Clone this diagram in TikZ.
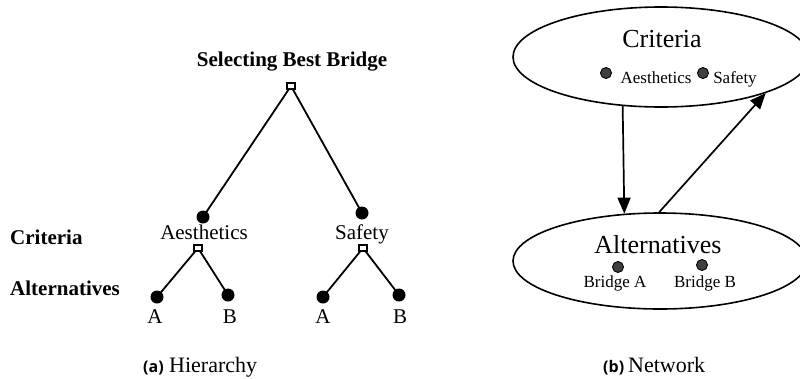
\documentclass[tikz,border=0pt]{standalone}
\usepackage{fontspec}
\setmainfont{Liberation Serif}
\newfontfamily\capsans{Open Sans}[BoldFont={* Bold}]
\usetikzlibrary{arrows.meta,shapes.geometric}
\begin{document}
\begin{tikzpicture}[x=1pt,y=-1pt,
  sq/.style={draw, fill=white, line width=1.6pt, minimum width=8pt, minimum height=6pt, inner sep=0pt},
  bdot/.style={circle, fill=black, minimum size=13pt, inner sep=0pt},
  gdot/.style={circle, draw, fill=black!75, line width=0.9pt, minimum size=11pt, inner sep=0pt},
  link/.style={line width=1.8pt},
  tl/.style={anchor=base, inner sep=0pt, font=\fontsize{21pt}{21pt}\selectfont},
  tlb/.style={anchor=base west, inner sep=0pt, font=\fontsize{21pt}{21pt}\selectfont\bfseries},
  big/.style={anchor=base, inner sep=0pt, font=\fontsize{26pt}{26pt}\selectfont},
  small/.style={anchor=base, inner sep=0pt, font=\fontsize{17pt}{17pt}\selectfont},
  oval/.style={ellipse, draw, line width=1.6pt, inner sep=0pt},
  arr/.style={line width=1.7pt, -{Triangle[length=16pt,width=13pt]}},
  capl/.style={anchor=base west, inner sep=0pt, font=\capsans\bfseries\fontsize{16pt}{16pt}\selectfont},
  capr/.style={anchor=base west, inner sep=0pt, font=\rmfamily\fontsize{22pt}{22pt}\selectfont},
]
\clip (0,0) rectangle (800,378);

% ---------- (a) Hierarchy ----------
\node[tl, font=\fontsize{21pt}{21pt}\selectfont\bfseries] (title) at (292,66) {Selecting Best Bridge};
\node[tlb] (lcrit) at (10,244) {Criteria};
\node[tlb] (lalt) at (10,295) {Alternatives};

\node[bdot] (c1) at (203,217) {};
\node[bdot] (c2) at (362,213) {};
\node[bdot] (l1) at (157,297) {};
\node[bdot] (l2) at (228,295) {};
\node[bdot] (l3) at (323,297) {};
\node[bdot] (l4) at (399,295) {};

\coordinate (rootc) at (291,86);
\coordinate (s1c) at (198,248);
\coordinate (s2c) at (363,248);
\draw[link] (rootc) -- (c1.center);
\draw[link] (rootc) -- (c2.center);
\draw[link] (s1c) -- (l1.center);
\draw[link] (s1c) -- (l2.center);
\draw[link] (s2c) -- (l3.center);
\draw[link] (s2c) -- (l4.center);

\node[sq] (root) at (rootc) {};
\node[sq] (s1) at (s1c) {};
\node[sq] (s2) at (s2c) {};

\node[tl] (aes) at (204,239) {Aesthetics};
\node[tl] (saf) at (362,239) {Safety};
\node[tl] (a1) at (155,323) {A};
\node[tl] (b1) at (230,323) {B};
\node[tl] (a2) at (323,323) {A};
\node[tl] (b2) at (400,323) {B};

% ---------- captions ----------
\node[capr] (capb2) at (628,372) {Network};
\node[capr] (capa2) at (169,372) {Hierarchy};
\node[capl] (capa) at (143,372) {(a)};
\node[capl] (capb) at (603,372) {(b)};

% ---------- (b) Network ----------
\node[oval, minimum width=296pt, minimum height=100pt] (top) at (661,57) {};
\node[oval, minimum width=294pt, minimum height=96pt] (bot) at (660,261) {};

\node[big] (tcrit) at (662,47) {Criteria};
\node[gdot] (d1) at (606,73) {};
\node[gdot] (d2) at (703,73) {};
\node[small] (naes) at (656,83) {Aesthetics};
\node[small] (nsaf) at (735,83) {Safety};

\node[big] (talt) at (658,253) {Alternatives};
\node[gdot] (d3) at (618,267) {};
\node[gdot] (d4) at (702,265) {};
\node[small] (ba) at (615,287) {Bridge A};
\node[small] (bb) at (705,287) {Bridge B};

\draw[arr] (top.232.6) -- (bot.127.7);
\draw[arr] (bot.91) -- (top.341);
\end{tikzpicture}
\end{document}
